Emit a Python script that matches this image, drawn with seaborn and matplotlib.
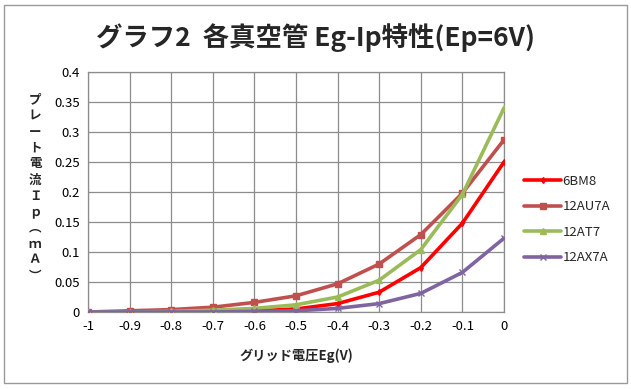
import matplotlib
matplotlib.use("Agg")
import matplotlib.pyplot as plt
import seaborn as sns
import pandas as pd
from matplotlib.patches import Rectangle

eg = [-1.0, -0.9, -0.8, -0.7, -0.6, -0.5, -0.4, -0.3, -0.2, -0.1, 0.0]
ip_6bm8 = [0.0, 0.0, 0.0005, 0.001, 0.002, 0.005, 0.014, 0.033, 0.074, 0.148, 0.25]
ip_12au7a = [0.0, 0.002, 0.004, 0.008, 0.016, 0.027, 0.047, 0.08, 0.129, 0.198, 0.287]
ip_12at7 = [0.0, 0.0, 0.001, 0.003, 0.006, 0.012, 0.025, 0.053, 0.104, 0.196, 0.34]
ip_12ax7a = [0.0, 0.0, 0.0, 0.0, 0.001, 0.002, 0.006, 0.014, 0.031, 0.066, 0.123]
series = ["6BM8", "12AU7A", "12AT7", "12AX7A"]
colors = ["#FF0000", "#C0504D", "#9BBB59", "#8064A2"]
xticks = [-1, -0.9, -0.8, -0.7, -0.6, -0.5, -0.4, -0.3, -0.2, -0.1, 0]
xticklabels = ["-1", "-0.9", "-0.8", "-0.7", "-0.6", "-0.5", "-0.4", "-0.3", "-0.2", "-0.1", "0"]
yticks = [0, 0.05, 0.1, 0.15, 0.2, 0.25, 0.3, 0.35, 0.4]
yticklabels = ["0", "0.05", "0.1", "0.15", "0.2", "0.25", "0.3", "0.35", "0.4"]

sns.set_style("white")
plt.rcParams['font.family'] = ['Noto Sans CJK JP', 'DejaVu Sans']

frames = []
for name, vals in zip(series, [ip_6bm8, ip_12au7a, ip_12at7, ip_12ax7a]):
    frames.append(pd.DataFrame({"Eg": eg, "Ip": vals, "tube": name}))
df = pd.concat(frames, ignore_index=True)

fig = plt.figure(figsize=(6.31, 3.89), dpi=100)
fig.patches.append(Rectangle((4/631, 6/389), 623/631, 378/389, transform=fig.transFigure,
                             fill=False, edgecolor="#9a9a9a", linewidth=1))
ax = fig.add_axes([88/631, 1-312/389, 416/631, 240/389])

markers = {"6BM8": "d", "12AU7A": "s", "12AT7": "^", "12AX7A": "x"}
msizes = {"6BM8": 3, "12AU7A": 4, "12AT7": 4, "12AX7A": 4}
for name, col in zip(series, colors):
    sub = df[df["tube"] == name]
    sns.lineplot(data=sub, x="Eg", y="Ip", color=col, marker=markers[name],
                 linewidth=2.6, markersize=msizes[name], markeredgewidth=1, markeredgecolor=col,
                 ax=ax, zorder=3, label=name)

ax.set_xlim(-1, 0)
ax.set_ylim(0, 0.4)
ax.set_xticks(xticks)
ax.set_xticklabels(xticklabels)
ax.set_yticks(yticks)
ax.set_yticklabels(yticklabels)
ax.tick_params(length=0, labelsize=9.5, pad=6, colors="black")
ax.grid(True, color="#8c8c8c", linewidth=0.9)
for s in ax.spines.values():
    s.set_color("#8c8c8c")
    s.set_linewidth(0.9)
ax.set_xlabel("")
ax.set_ylabel("")

fig.text(296/631, 1-356/389, "グリッド電圧Eg(V)", ha="center", va="center", fontsize=9.5, fontweight="bold")
ylab = "\n".join(list("プレート電流Ｉｐ︵ｍＡ︶"))
fig.text(35/631, 1-188/389, ylab, ha="center", va="center", fontsize=9, fontweight="bold",
         linespacing=1.3)
fig.text(315/631, 1-38/389, "グラフ2  各真空管 Eg-Ip特性(Ep=6V)", ha="center", va="center",
         fontsize=19, fontweight="bold")

handles, labels = ax.get_legend_handles_labels()
ax.legend(handles, labels, loc="center left", bbox_to_anchor=(1.02, 0.385), frameon=False,
          fontsize=9.5, handlelength=2.8, labelspacing=0.95, handletextpad=0.1)

fig.savefig("out.png", dpi=100)
